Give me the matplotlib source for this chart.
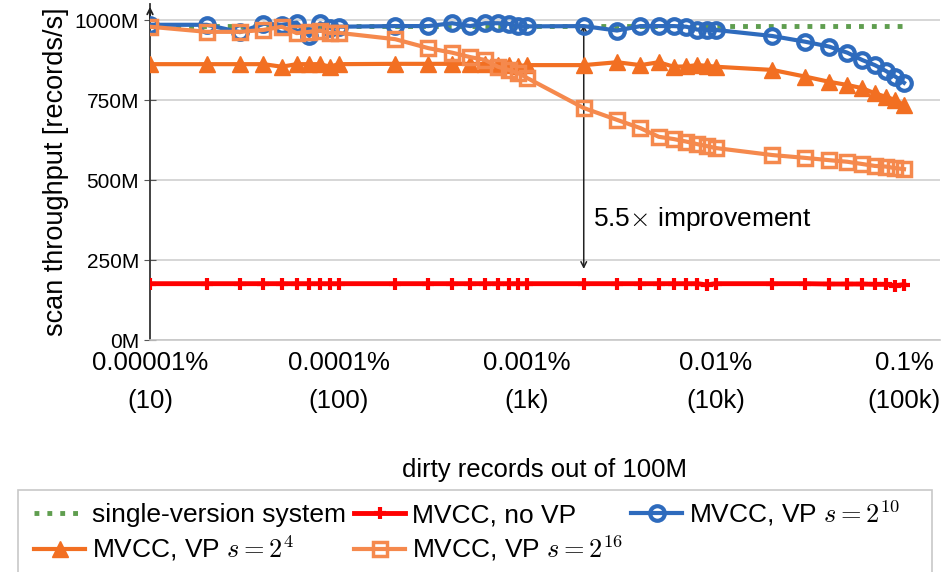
import matplotlib
matplotlib.use('Agg')
import matplotlib.pyplot as plt
from matplotlib.patches import Rectangle
import numpy as np

plt.rcParams['font.family'] = ['Liberation Sans', 'DejaVu Sans']
plt.rcParams['mathtext.fontset'] = 'cm'

# dirty records (out of 100M)
dirty = [10, 20, 30, 40, 50, 60, 70, 80, 90, 100,
         200, 300, 400, 500, 600, 700, 800, 900, 1000,
         2000, 3000, 4000, 5000, 6000, 7000, 8000, 9000, 10000,
         20000, 30000, 40000, 50000, 60000, 70000, 80000, 90000, 100000]

# scan throughput in M records/s
single_version = [980] * 37
mvcc_no_vp = [176] * 26 + [172, 176, 176, 176, 175, 175, 175, 174, 174, 170, 173]
vp_2_10 = [985, 985, 962, 988, 985, 992, 950, 990, 975, 979,
           981, 981, 990, 981, 990, 990, 988, 980, 980,
           981, 967, 981, 981, 981, 979, 970, 969, 969,
           950, 932, 917, 898, 875, 859, 841, 823, 804]
vp_2_4 = [862, 862, 862, 862, 854, 862, 862, 862, 854, 862,
          863, 863, 863, 863, 862, 860, 858, 856, 859,
          859, 868, 859, 868, 854, 855, 859, 857, 854,
          844, 823, 807, 797, 787, 771, 760, 750, 734]
vp_2_16 = [979, 963, 963, 969, 979, 959, 963, 967, 959, 960,
           940, 912, 898, 884, 875, 854, 844, 834, 819,
           725, 688, 662, 635, 628, 620, 612, 606, 600,
           578, 569, 562, 557, 550, 544, 542, 537, 534]

tick_pos = [10, 100, 1000, 10000, 100000]
tick_labels = ['0.00001%\n(10)', '0.0001%\n(100)', '0.001%\n(1k)', '0.01%\n(10k)', '0.1%\n(100k)']

fs = 18.5

fig = plt.figure(figsize=(9.42, 5.72), dpi=100)
ax = fig.add_axes([150/942, 1 - 340/572, 790/942, 336/572])

h_sv, = ax.plot(dirty, single_version, ':', color='#5f9e4f', lw=3.5, zorder=2,
                label='single-version system')
h_red, = ax.plot(dirty, mvcc_no_vp, '-', color='#ff0000', lw=3.5, marker='+',
                 ms=9, mew=3, zorder=3, label='MVCC, no VP')
h_blue, = ax.plot(dirty, vp_2_10, '-', color='#2e6bbd', lw=3, marker='o', ms=10.5,
                  mfc='none', mew=3, zorder=4, label=r'MVCC, VP $s = 2^{10}$')
h_tri, = ax.plot(dirty, vp_2_4, '-', color='#f26f22', lw=3, marker='^', ms=11,
                 zorder=5, label=r'MVCC, VP $s = 2^{4}$')
h_sq, = ax.plot(dirty, vp_2_16, '-', color='#f5894d', lw=3, marker='s', ms=10,
                mfc='none', mew=2.5, zorder=6, label=r'MVCC, VP $s = 2^{16}$')

ax.set_xscale('log')
ax.set_xlim(10, 10 ** (5 + 36 / 188.5))
ax.set_ylim(0, 1050)
ax.set_yticks([0, 250, 500, 750, 1000])
ax.set_yticklabels(['0M', '250M', '500M', '750M', '1000M'], fontsize=15)
ax.set_xticks(tick_pos)
ax.set_xticklabels(tick_labels, fontsize=fs, linespacing=1.75)
ax.xaxis.set_minor_locator(matplotlib.ticker.NullLocator())
ax.tick_params(axis='y', direction='inout', length=8, color='#555555', pad=4)
ax.tick_params(axis='x', direction='inout', length=0, pad=8)

ax.grid(axis='y', color='#d0d0d0', lw=1.2)
ax.set_axisbelow(True)
for s in ['top', 'right']:
    ax.spines[s].set_visible(False)
ax.spines['bottom'].set_color('#c8c8c8')
ax.spines['bottom'].set_linewidth(1.2)
ax.spines['left'].set_color('#333333')
ax.spines['left'].set_linewidth(1.3)

# arrow tip on y axis
ax.annotate('', xy=(0, 1.0), xytext=(0, 0.95), xycoords='axes fraction',
            arrowprops=dict(arrowstyle='->', color='#222222', lw=1.3))

# improvement arrow
ax.annotate('', xy=(2000, 985), xytext=(2000, 222),
            arrowprops=dict(arrowstyle='<->', color='#222222', lw=1.1,
                            shrinkA=0, shrinkB=0))
ax.text(2250, 378, r'5.5$\times$ improvement', fontsize=19, va='center', ha='left')

ax.set_ylabel('scan throughput [records/s]', fontsize=19.5, labelpad=4)
ax.set_xlabel('dirty records out of 100M', fontsize=fs, labelpad=32)

# legend frame drawn separately so the inner padding can match
fig.patches.append(Rectangle((18/942, -0.02), 914/942, (572 - 490)/572 + 0.02,
                             transform=fig.transFigure, fill=False,
                             edgecolor='#c8c8c8', lw=1.2))

handles = [h_sv, h_tri, h_red, h_sq, h_blue]
leg = fig.legend(handles=handles, labels=[h.get_label() for h in handles],
                 ncol=3, fontsize=19, loc='upper left',
                 bbox_to_anchor=(34/942, 1 - 498/572),
                 frameon=False,
                 handlelength=1.95, handletextpad=0.25, columnspacing=0.3,
                 labelspacing=0.25, borderpad=0, borderaxespad=0)

fig.savefig('out.png', dpi=100)
